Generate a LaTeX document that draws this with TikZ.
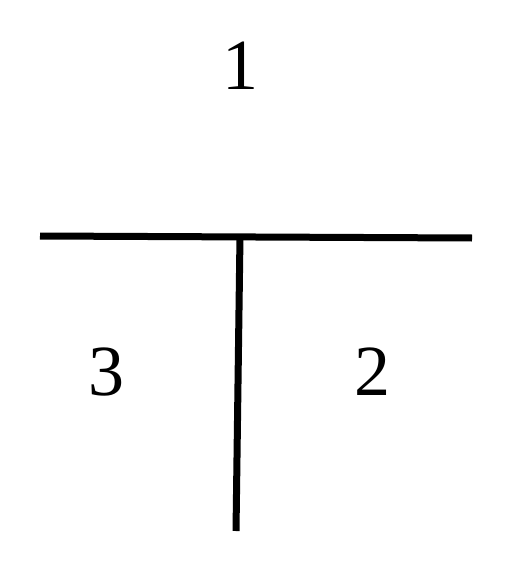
\documentclass[tikz,border=0pt]{standalone}
\usepackage{fontspec}
\setmainfont{Liberation Serif}
\begin{document}
\begin{tikzpicture}[x=1pt,y=-1pt,
  bar/.style={line width=7pt,line cap=butt},
  lbl/.style={font=\fontsize{72}{72}\selectfont,inner sep=0pt}]
\useasboundingbox (0,0) rectangle (506,575);
\coordinate (hl) at (40,236);
\coordinate (hr) at (472,238);
\coordinate (vt) at (240,236);
\coordinate (vb) at (236,531);
\draw[bar] (hl) -- (hr);
\draw[bar] (vt) -- (vb);
\node[lbl] (one) at (240,66) {1};
\node[lbl] (three) at (106,372) {3};
\node[lbl] (two) at (372,372) {2};
\end{tikzpicture}
\end{document}
